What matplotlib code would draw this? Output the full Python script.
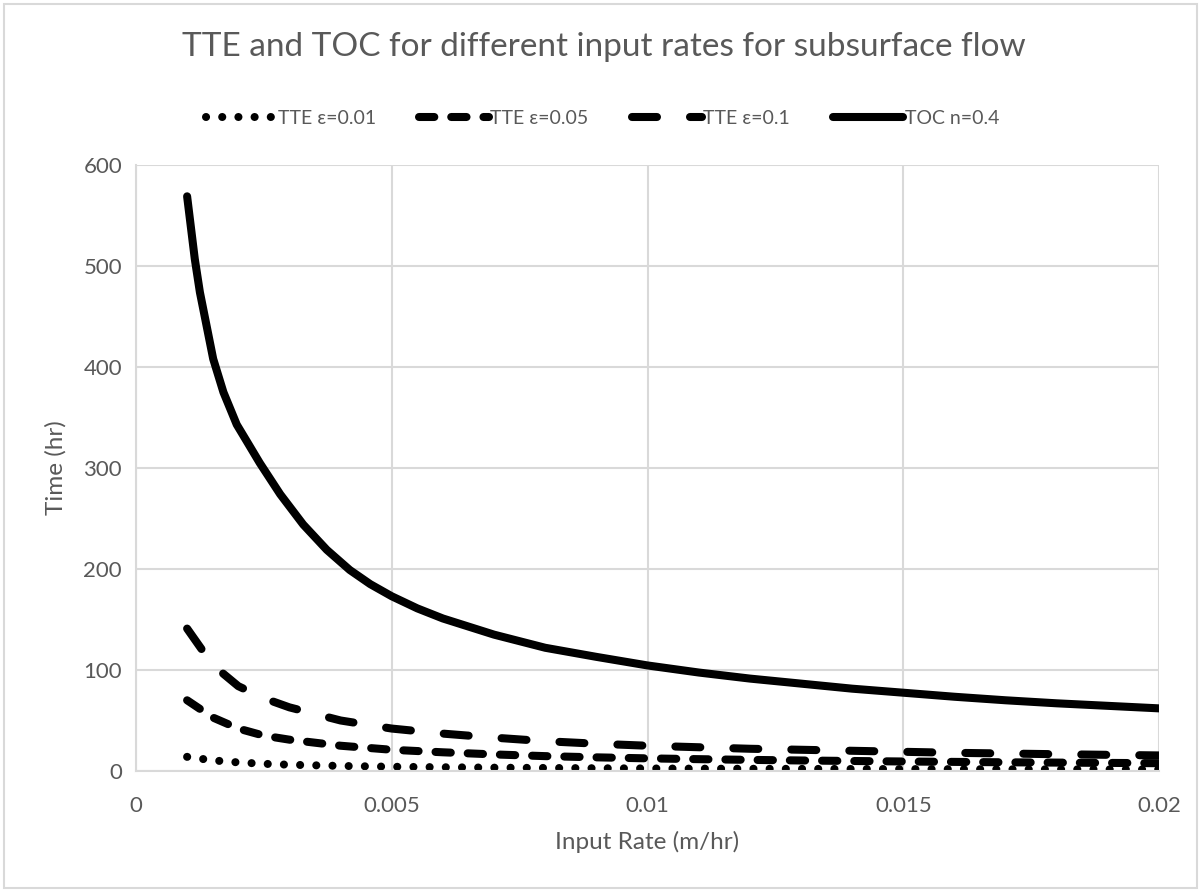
import numpy as np
import matplotlib
matplotlib.use("Agg")
import matplotlib.pyplot as plt
from matplotlib.patches import Rectangle

plt.rcParams['font.family'] = ['Lato', 'DejaVu Sans']

# Datos
tte_rate = [0.001, 0.0015, 0.002, 0.0025, 0.003, 0.004, 0.005, 0.006, 0.007, 0.008,
            0.009, 0.010, 0.011, 0.012, 0.013, 0.014, 0.015, 0.016, 0.017, 0.018,
            0.019, 0.020]
tte_001 = [14, 10.5, 8.5, 7.1, 6.2, 5.0, 4.2, 3.7, 3.3, 3.0,
           2.7, 2.5, 2.3, 2.2, 2.1, 2.0, 1.9, 1.8, 1.7, 1.6, 1.6, 1.5]
tte_005 = [70, 53, 42, 35, 31, 25, 21, 18.5, 16.4, 14.7,
           13.5, 12.5, 11.7, 11.0, 10.4, 9.9, 9.4, 9.0, 8.6, 8.3, 8.0, 7.7]
tte_01 = [141, 105, 84, 72, 63, 50, 42, 37, 33, 29.5,
          27, 25, 23.5, 22, 21, 20, 19, 18, 17.3, 16.6, 16, 15.4]

toc_rate = [0.0010, 0.00115, 0.00125, 0.00138, 0.00151, 0.00171, 0.00197, 0.00216,
            0.00242, 0.00282, 0.00327, 0.00373, 0.00418, 0.00458, 0.0050, 0.0055,
            0.0060, 0.007, 0.008, 0.009, 0.010, 0.011, 0.012, 0.013, 0.014, 0.015,
            0.016, 0.017, 0.018, 0.019, 0.020]
toc = [569, 507, 474, 441, 408, 375, 343, 327,
       305, 274, 244, 219, 199, 185, 173, 161,
       151, 135, 122, 113, 104.5, 97.5, 91.5, 86.5, 81.5, 77.5,
       73.5, 70, 67, 64.5, 62]

gris = '#595959'
rejilla = '#d9d9d9'
lw = 5.8

fig = plt.figure(figsize=(12.01, 8.91), dpi=100)
fig.patches.append(Rectangle((0.003, 0.003), 0.994, 0.992, transform=fig.transFigure,
                             fill=False, edgecolor=rejilla, linewidth=1.5))
ax = fig.add_axes([0.1132, 0.1347, 0.8519, 0.6801])

ax.plot(tte_rate, tte_001, color='black', lw=lw, dashes=(0.01, 2.0),
        dash_capstyle='round', dash_joinstyle='round', label='TTE ε=0.01')
ax.plot(tte_rate, tte_005, color='black', lw=lw, dashes=(1.9, 2.1),
        dash_capstyle='round', dash_joinstyle='round', label='TTE ε=0.05')
ax.plot(tte_rate, tte_01, color='black', lw=lw, dashes=(3.1, 4.1),
        dash_capstyle='round', dash_joinstyle='round', label='TTE ε=0.1')
ax.plot(toc_rate, toc, color='black', lw=lw, solid_capstyle='round',
        solid_joinstyle='round', label='TOC n=0.4')

ax.set_xlim(0, 0.02)
ax.set_ylim(0, 600)
ax.set_xticks([0, 0.005, 0.01, 0.015, 0.02])
ax.set_xticklabels(['0', '0.005', '0.01', '0.015', '0.02'])
ax.set_yticks(range(0, 601, 100))
ax.grid(True, color=rejilla, lw=1.5)
ax.set_axisbelow(True)
for lado in ['top', 'right']:
    ax.spines[lado].set_visible(False)
for lado in ['left', 'bottom']:
    ax.spines[lado].set_color(rejilla)
    ax.spines[lado].set_linewidth(1.5)
ax.tick_params(length=0, labelsize=16, labelcolor=gris)
ax.tick_params(axis='y', pad=10)
ax.tick_params(axis='x', pad=18)

ax.set_xlabel('Input Rate (m/hr)', fontsize=17.5, color=gris, labelpad=11)
ax.set_ylabel('Time (hr)', fontsize=17.5, color=gris, labelpad=12)

fig.text(0.503, 0.947, 'TTE and TOC for different input rates for subsurface flow',
         ha='center', va='center', fontsize=24, color=gris)

ax.legend(loc='center', bbox_to_anchor=(0.456, 1.077), ncol=4, frameon=False,
          fontsize=14, labelcolor=gris, handlelength=3.6, handletextpad=0.1,
          columnspacing=2.2)

fig.savefig('out.png', dpi=100)
